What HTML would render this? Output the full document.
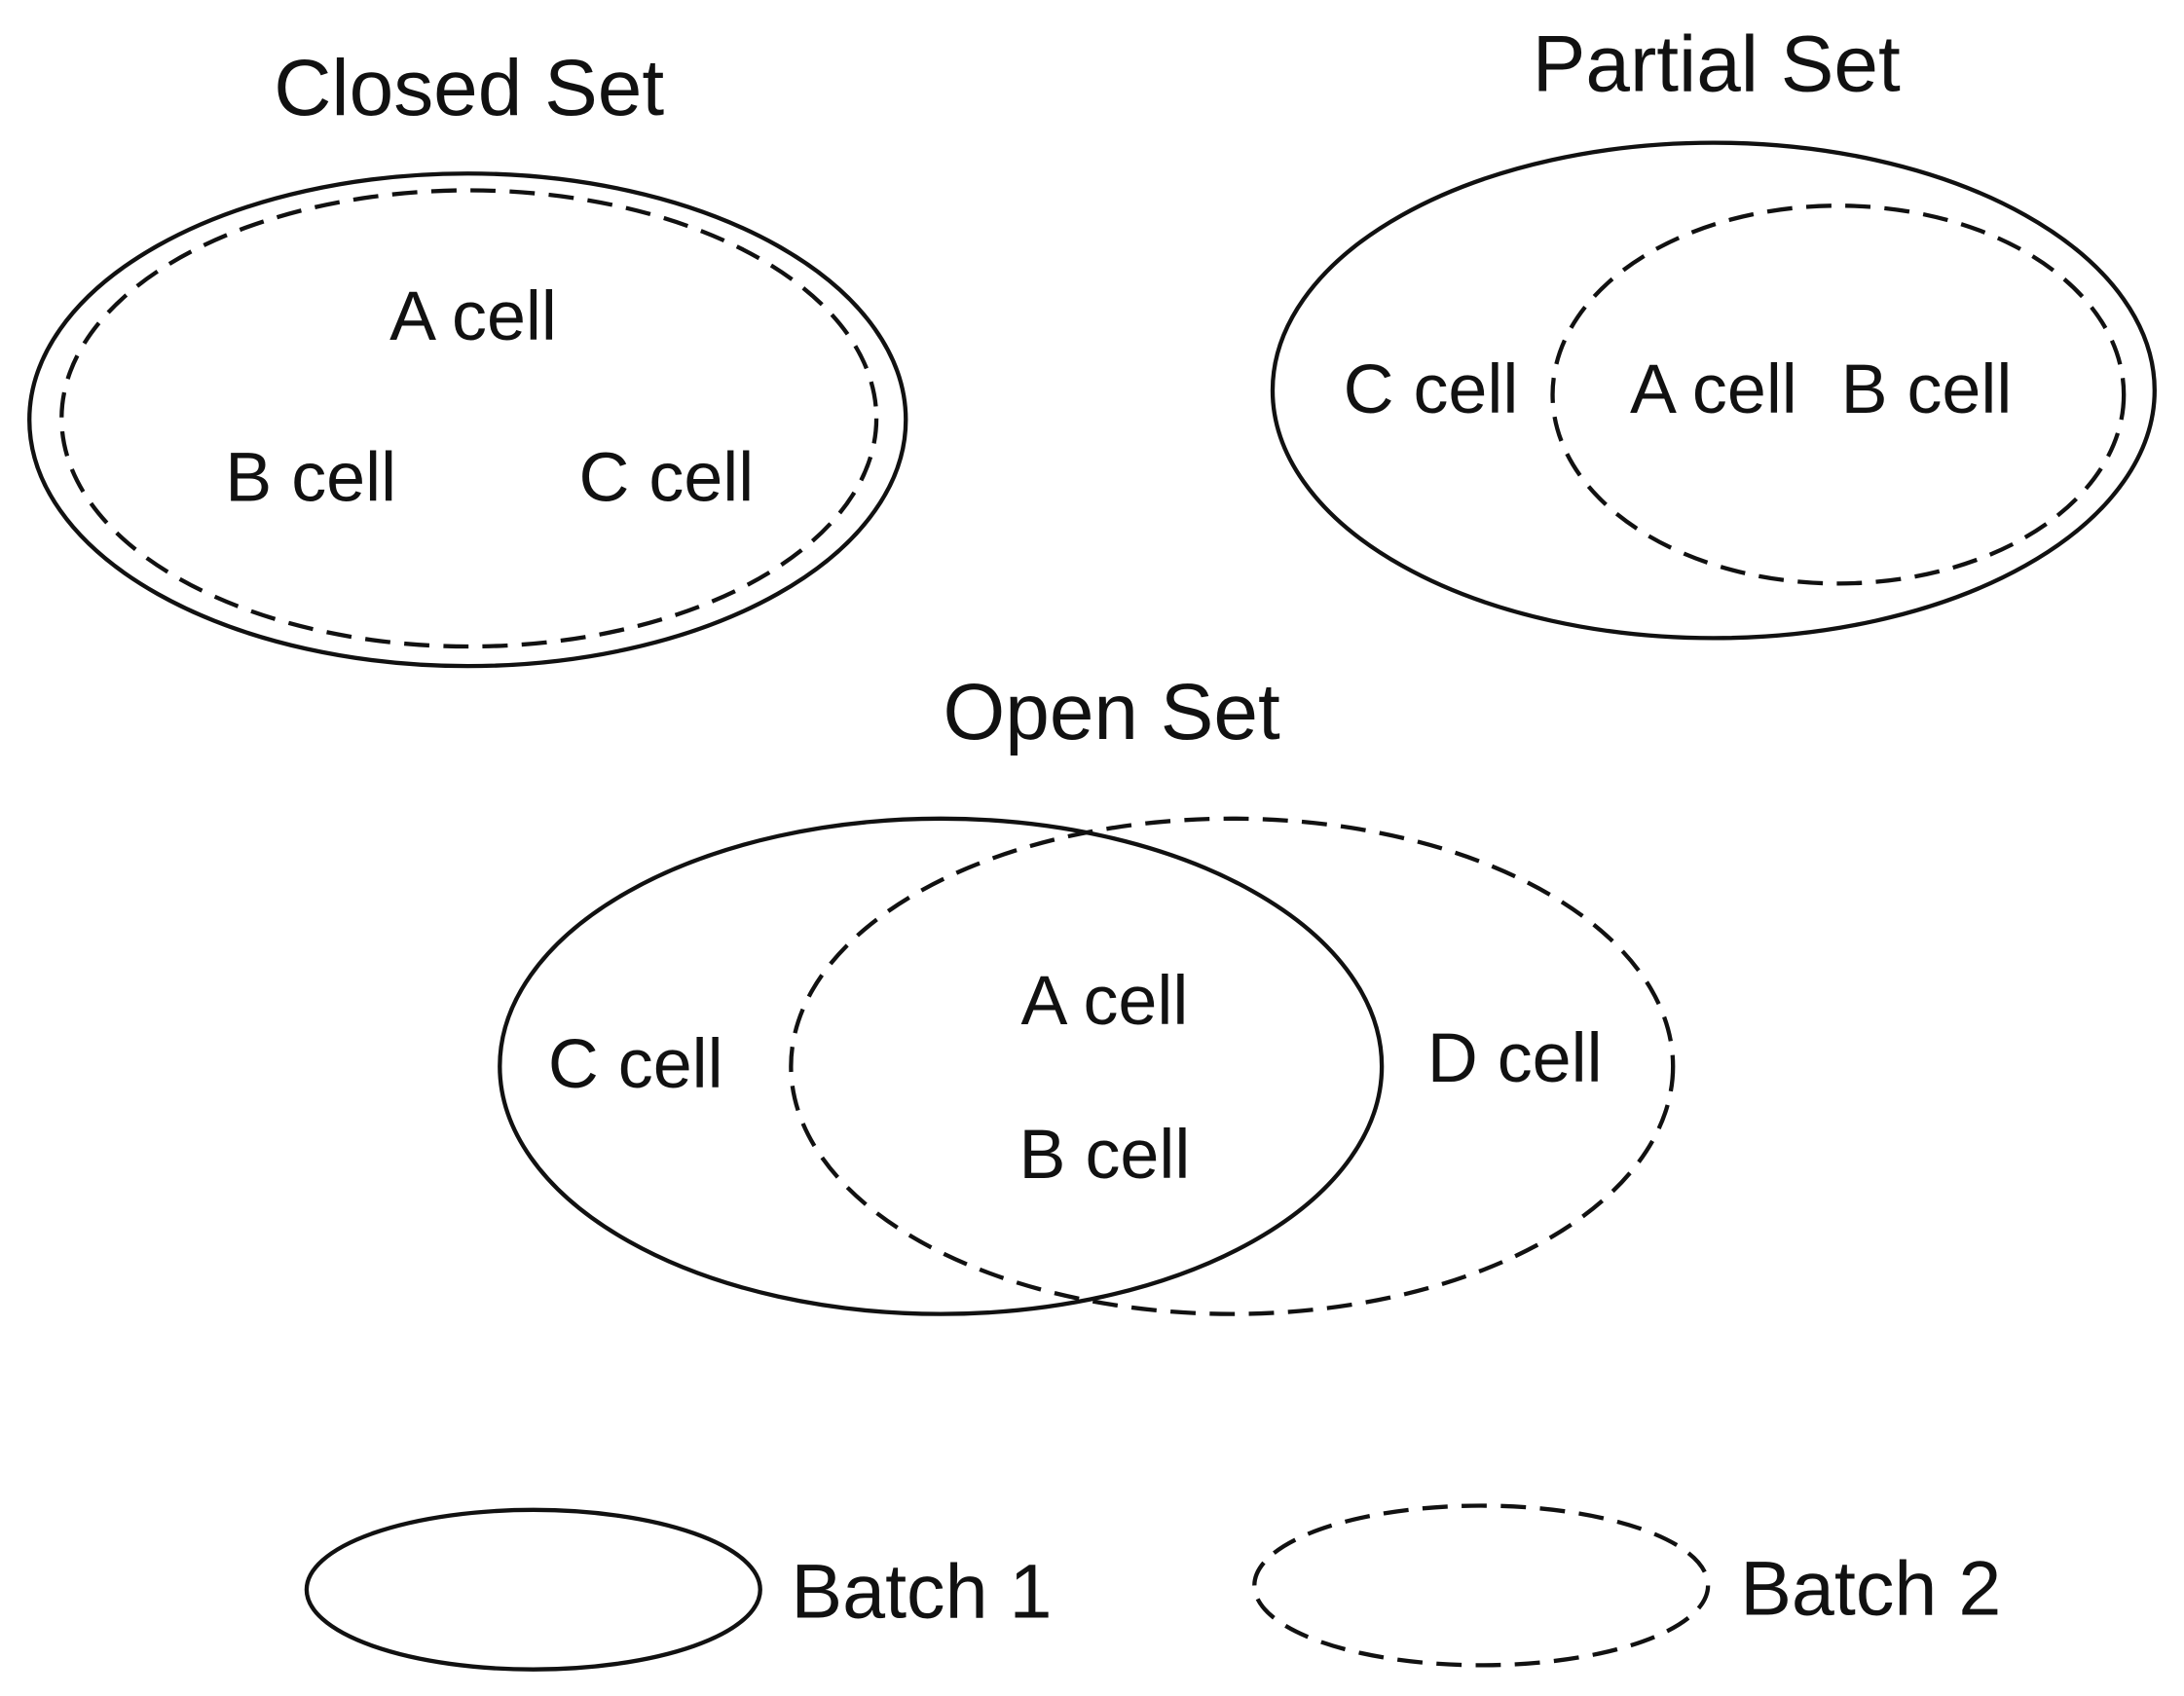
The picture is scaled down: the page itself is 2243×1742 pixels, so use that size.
<!DOCTYPE html>
<html><head><meta charset="utf-8"><style>html,body{margin:0;padding:0;background:#fff}svg{display:block}</style></head>
<body>
<svg width="2243" height="1742" viewBox="0 0 1560 1212" preserveAspectRatio="none" xmlns="http://www.w3.org/2000/svg">
<g fill="none" stroke="#111" stroke-width="3">
<ellipse cx="334" cy="300" rx="313" ry="176"/>
<ellipse cx="335" cy="299" rx="291" ry="163" stroke-dasharray="18 10"/>
<ellipse cx="1224" cy="279" rx="315" ry="177"/>
<ellipse cx="1313" cy="282" rx="204" ry="135" stroke-dasharray="18 10"/>
<ellipse cx="672" cy="762" rx="315" ry="177"/>
<ellipse cx="880" cy="762" rx="315" ry="177" stroke-dasharray="18 10"/>
<ellipse cx="381" cy="1136" rx="162" ry="57"/>
<ellipse cx="1058" cy="1133" rx="162" ry="57" stroke-dasharray="18 10"/>
</g>
<g font-family="Liberation Sans, Arial, sans-serif" fill="#111" text-anchor="middle">
<text x="335" y="82" font-size="57">Closed Set</text>
<text x="1226" y="65" font-size="57">Partial Set</text>
<text x="794" y="528" font-size="57">Open Set</text>
<g font-size="50">
<text x="338" y="243">A cell</text>
<text x="222" y="358">B cell</text>
<text x="476" y="358">C cell</text>
<text x="1022" y="295">C cell</text>
<text x="1224" y="295">A cell</text>
<text x="1376" y="295">B cell</text>
<text x="789" y="732">A cell</text>
<text x="789" y="842">B cell</text>
<text x="454" y="777">C cell</text>
<text x="1082" y="773">D cell</text>
</g>
<text x="565" y="1156" font-size="55" text-anchor="start">Batch 1</text>
<text x="1243" y="1154" font-size="55" text-anchor="start">Batch 2</text>
</g>
</svg>
</body></html>
